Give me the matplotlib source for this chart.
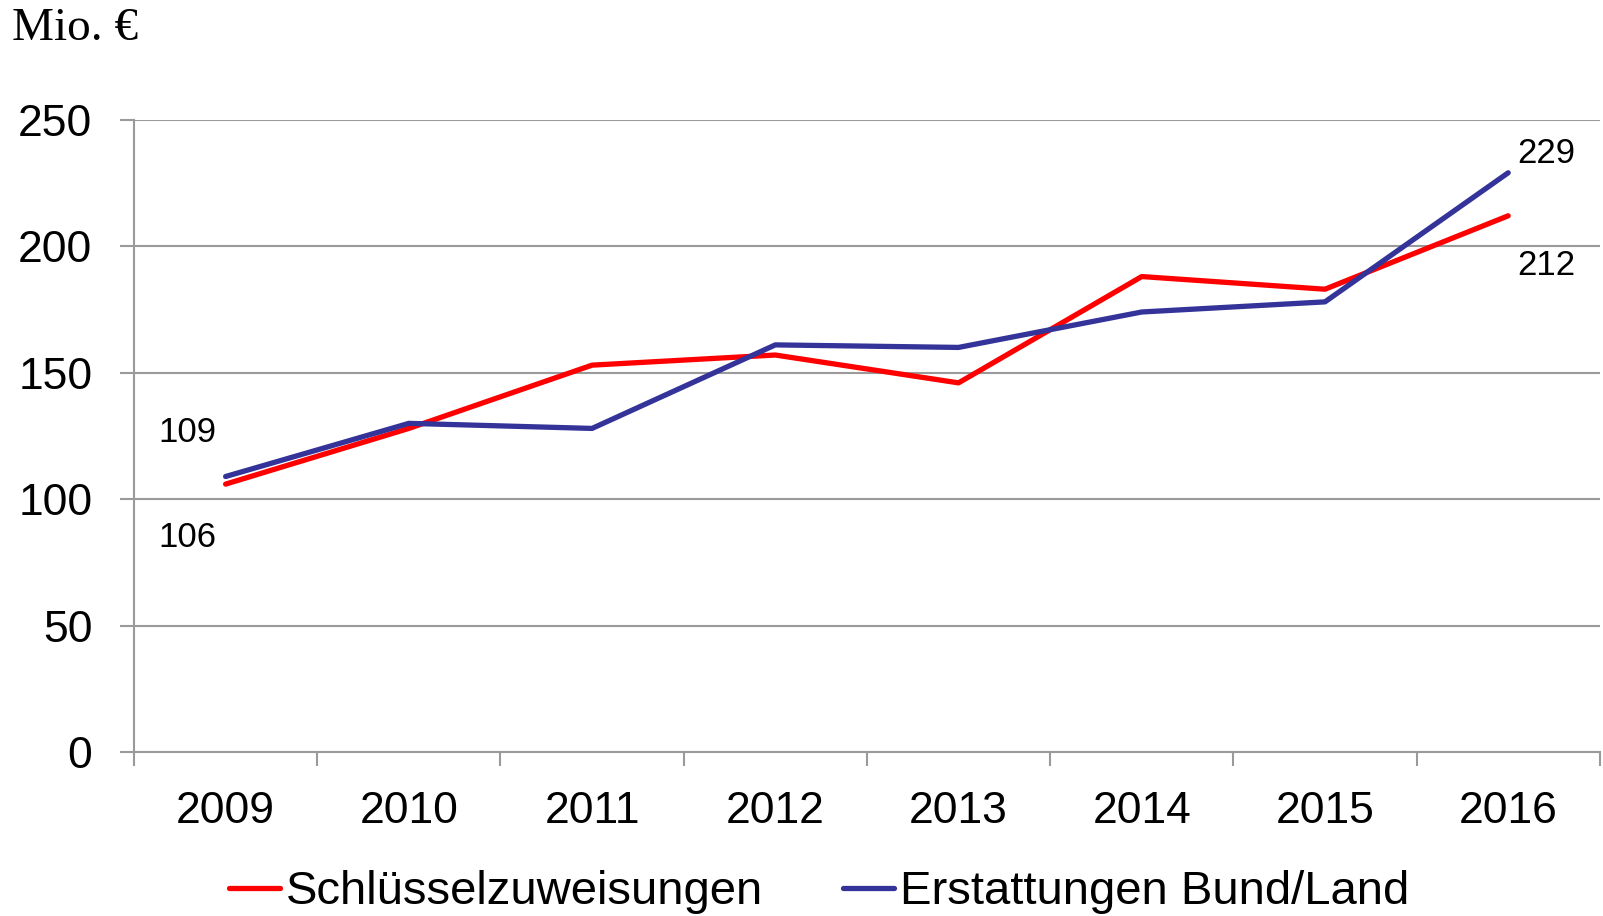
import matplotlib.pyplot as plt
from matplotlib import font_manager
from matplotlib.ticker import FixedLocator

jahre = ["2009", "2010", "2011", "2012", "2013", "2014", "2015", "2016"]
schluessel = [106, 128, 153, 157, 146, 188, 183, 212]
erstattungen = [109, 130, 128, 161, 160, 174, 178, 229]
yticks = [0, 50, 100, 150, 200, 250]

namen = {f.name for f in font_manager.fontManager.ttflist}
sans = "Liberation Sans" if "Liberation Sans" in namen else "DejaVu Sans"
plt.rcParams["font.family"] = [sans, "DejaVu Sans"]

grau = "#9a9a9a"
rot = "#ff0000"
blau = "#333399"

fig = plt.figure(figsize=(16.03, 9.16), dpi=100)
ax = fig.add_axes([0.0836, 0.1786, 0.9144, 0.6908])

x = list(range(len(jahre)))
ax.plot(x, schluessel, color=rot, lw=3.8, label="Schlüsselzuweisungen", solid_capstyle="round")
ax.plot(x, erstattungen, color=blau, lw=3.8, label="Erstattungen Bund/Land", solid_capstyle="round")

ax.set_xlim(-0.5, len(jahre) - 0.5)
ax.set_ylim(0, 250)
ax.set_yticks(yticks)
ax.set_xticks(x)
ax.set_xticklabels(jahre)
ax.xaxis.set_minor_locator(FixedLocator([i - 0.5 for i in range(len(jahre) + 1)]))

ax.grid(axis="y", color=grau, lw=1.5)
ax.set_axisbelow(True)
for s in ["top", "right"]:
    ax.spines[s].set_visible(False)
for s in ["left", "bottom"]:
    ax.spines[s].set_color(grau)
    ax.spines[s].set_linewidth(1.5)

ax.tick_params(axis="y", length=10, width=1.5, color=grau, labelsize=32, pad=20)
ax.tick_params(axis="x", which="major", length=0, labelsize=32, pad=28)
ax.tick_params(axis="x", which="minor", length=10, width=1.5, color=grau)

# Werte an Anfang und Ende
lab = dict(textcoords="offset pixels", ha="center", va="center", fontsize=25)
ax.annotate(str(erstattungen[0]), (0, erstattungen[0]), xytext=(-38, 44), **lab)
ax.annotate(str(schluessel[0]), (0, schluessel[0]), xytext=(-38, -53), **lab)
ax.annotate(str(erstattungen[-1]), (7, erstattungen[-1]), xytext=(38, 19), **lab)
ax.annotate(str(schluessel[-1]), (7, schluessel[-1]), xytext=(38, -50), **lab)

fig.text(0.0075, 0.969, "Mio. €", fontsize=34, va="center", ha="left",
         family=["Liberation Serif", "DejaVu Serif"])

fig.legend(loc="center", bbox_to_anchor=(0.511, 0.026), ncol=2, frameon=False,
           fontsize=34, handlelength=1.08, handletextpad=0.12, columnspacing=1.7,
           borderaxespad=0, borderpad=0)

fig.savefig("out.png", dpi=100)
